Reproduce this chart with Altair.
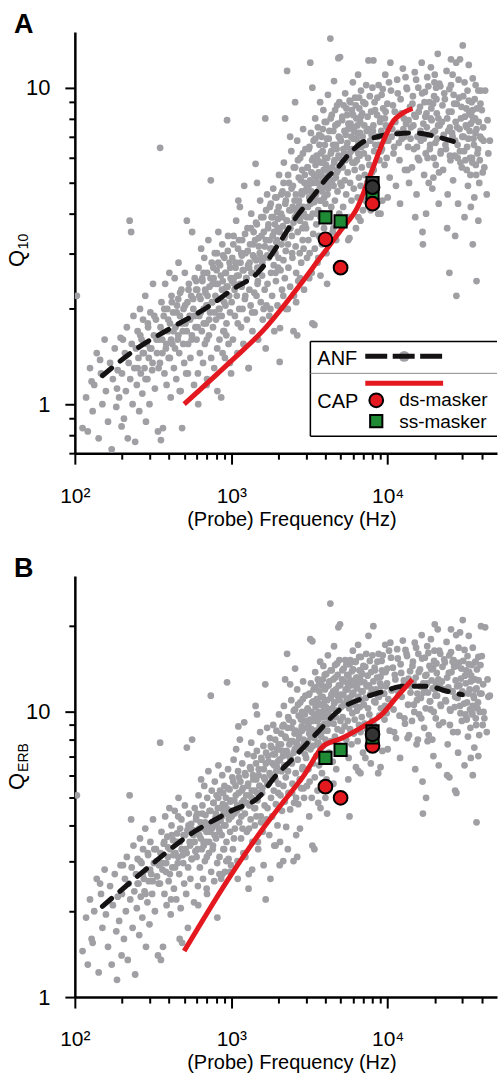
import altair as alt
import pandas as pd

# ---------------- ANF single fibres: (probe frequency Hz, Q10, QERB) ----------------
anf_100_200 = [(103,2.2,5.1),(112,0.84,1.45),(118,1.05,1.9),(121,0.82,1.3),(125,1.3,2.2),(130,0.95,1.55),(133,1.15,2.0),(138,1.45,2.6),(142,0.78,1.22),(147,1.25,2.3),(150,1.0,1.75),(155,1.6,2.8),(158,1.1,1.95),(163,0.88,1.5),(168,1.35,2.45),(172,0.72,1.3),(175,1.2,2.1),(180,1.5,2.7),(184,0.98,1.7),(188,1.28,2.25),(192,1.05,1.85),(196,1.62,2.9),(199,0.85,1.4),(145,1.38,2.5),(128,1.18,1.6),(186,1.12,1.15)]
anf_200_350 = [(200,1.25,2.3),(203,1.6,2.9),(206,0.9,1.6),(209,1.45,2.6),(212,1.1,2.0),(215,1.75,3.1),(218,0.78,1.35),(221,1.35,2.5),(224,3.8,5.1),(226,1.2,2.2),(229,3.5,4.2),(231,1.55,2.85),(234,1.0,1.75),(237,1.9,3.4),(240,1.3,2.35),(243,0.76,1.2),(246,1.5,2.7),(249,1.15,2.05),(252,1.7,3.05),(255,1.4,2.5),(258,0.95,1.65),(261,2.0,3.6),(264,1.25,2.25),(267,1.6,2.95),(270,1.08,1.9),(273,1.85,3.3),(276,1.45,2.6),(279,1.3,2.35),(282,2.2,3.9),(285,0.88,1.5),(288,1.55,2.8),(291,1.2,2.15),(294,1.75,3.15),(297,1.4,2.55),(300,1.0,1.8),(304,1.95,3.5),(308,1.5,2.7),(312,1.28,2.3),(316,2.4,4.2),(320,1.65,2.95),(325,1.12,2.0),(330,1.85,3.3),(335,1.45,2.65),(340,0.82,1.4),(345,1.6,2.9)]
anf_350_600 = [(350,1.35,2.5),(351,6.46,7.8),(355,0.77,1.35),(358,2.1,3.8),(362,1.6,2.95),(366,0.84,1.5),(370,1.9,3.45),(374,1.25,2.3),(378,2.4,4.3),(382,1.5,2.75),(386,1.15,2.1),(390,2.0,3.65),(394,1.7,3.1),(398,1.4,2.55),(402,2.6,4.6),(406,1.8,3.3),(410,1.05,1.95),(415,2.2,4.0),(420,1.55,2.85),(425,1.95,3.55),(430,1.3,2.4),(435,2.5,4.5),(440,1.75,3.2),(445,1.2,2.2),(450,2.05,3.75),(455,1.6,2.95),(460,2.8,5.0),(465,1.45,2.7),(470,1.9,3.5),(475,1.1,2.05),(480,2.3,4.2),(485,0.84,1.55),(490,1.7,3.15),(495,2.0,3.7),(500,1.35,2.5),(505,2.6,4.7),(510,1.8,3.3),(515,1.25,2.3),(520,3.8,7.5),(525,2.1,3.85),(530,1.55,2.85),(536,2.4,4.4),(542,1.9,3.5),(548,1.4,2.6),(554,2.2,4.05),(560,1.65,3.05),(562,3.5,8.0),(572,2.0,3.7),(578,1.15,2.15),(584,2.5,4.6),(590,1.75,3.25),(596,2.3,4.2),(412,1.6,2.2),(468,1.1,1.6),(528,1.25,1.75),(458,2.15,4.3)]
anf_600_1000 = [(600,1.6,3.1),(606,2.3,4.4),(612,1.25,2.45),(618,2.7,5.1),(624,1.9,3.7),(630,1.45,2.85),(636,2.15,4.1),(642,3.1,5.8),(648,1.7,3.3),(654,2.45,4.7),(660,1.35,2.6),(666,2.0,3.9),(672,2.9,5.5),(678,1.55,3.0),(684,2.25,4.35),(690,1.8,3.5),(696,1.15,2.4),(702,2.6,5.0),(708,2.05,3.95),(714,3.3,6.2),(720,1.65,3.2),(726,2.35,4.5),(732,1.95,3.8),(740,5.1,11.4),(744,1.4,2.75),(750,2.8,5.3),(757,2.1,4.05),(764,1.75,3.4),(771,2.5,4.8),(778,1.3,2.55),(785,3.0,5.7),(792,2.2,4.25),(799,1.85,3.6),(806,2.65,5.1),(813,1.5,2.95),(820,2.4,4.6),(827,3.5,6.5),(834,2.0,3.9),(841,1.6,3.1),(848,2.75,5.3),(855,2.15,4.15),(862,1.05,2.6),(869,1.9,3.7),(876,3.2,6.0),(883,2.45,4.75),(890,1.7,3.3),(897,2.3,4.45),(904,2.9,5.5),(911,1.4,2.75),(918,2.05,4.0),(925,2.6,5.0),(932,1.8,3.5),(940,7.9,12.7),(947,2.35,4.55),(954,3.4,6.3),(961,1.55,3.05),(968,2.2,4.25),(975,2.8,5.35),(982,1.95,3.8),(990,2.5,4.85),(997,1.25,2.9),(615,1.0,2.1),(700,1.2,2.3),(760,2.4,3.3),(840,1.9,2.7),(880,1.45,2.7),(930,1.65,3.0),(665,2.6,3.5),(810,3.0,4.1),(980,1.35,2.75),(815,1.1,1.9)]
anf_1000_1700 = [(1005,2.1,4.3),(1015,2.9,5.9),(1025,1.6,3.3),(1035,3.4,6.8),(1045,2.4,4.9),(1055,1.9,3.9),(1065,2.7,5.5),(1075,3.8,7.4),(1085,2.2,4.5),(1095,1.45,3.0),(1105,3.1,6.2),(1110,4.4,8.9),(1115,2.55,5.2),(1125,2.0,4.1),(1135,4.2,8.0),(1145,2.8,5.7),(1155,1.75,3.6),(1165,2.35,4.8),(1175,3.3,6.6),(1185,2.65,5.4),(1195,1.55,3.2),(1210,4.9,9.2),(1222,2.15,4.4),(1234,3.0,6.0),(1246,2.5,5.1),(1258,1.85,3.8),(1270,3.6,7.1),(1282,2.75,5.6),(1294,1.3,2.7),(1306,2.3,4.7),(1318,3.2,6.4),(1330,2.05,4.2),(1342,4.0,7.8),(1354,2.6,5.3),(1366,1.7,3.5),(1378,2.95,6.0),(1390,3.5,7.0),(1402,2.25,4.6),(1414,1.95,4.0),(1430,5.75,10.5),(1444,2.85,5.8),(1458,3.7,7.3),(1460,5.0,9.8),(1472,2.4,4.9),(1486,1.6,3.3),(1500,3.15,6.3),(1515,2.7,5.5),(1530,4.4,8.5),(1545,2.1,4.3),(1560,3.4,6.8),(1575,2.55,5.2),(1590,1.85,3.8),(1605,3.9,7.6),(1620,2.9,5.9),(1635,2.3,4.7),(1650,8.0,12.5),(1665,3.3,6.6),(1680,2.05,4.2),(1695,4.6,8.8),(1040,2.5,3.6),(1100,1.8,2.6),(1160,3.0,4.3),(1230,2.2,3.1),(1300,2.7,3.9),(1360,1.95,2.8),(1420,3.3,4.6),(1480,2.45,3.5),(1550,2.9,4.1),(1610,2.0,2.9),(1290,1.3,2.4),(1660,1.5,2.2)]
anf_1700_3000 = [(1705,2.4,4.6),(1720,3.6,7.0),(1735,2.9,5.6),(1750,1.9,3.7),(1765,4.2,8.1),(1780,3.1,6.0),(1795,2.6,5.0),(1810,3.9,7.5),(1825,2.2,4.3),(1840,3.4,6.6),(1855,4.8,9.0),(1870,2.75,5.3),(1885,1.7,3.4),(1900,3.7,7.1),(1915,3.0,5.8),(1930,2.45,4.75),(1945,4.5,8.6),(1960,3.3,6.4),(1975,2.05,4.0),(1990,3.85,7.4),(2005,2.9,5.6),(2020,5.3,9.8),(2035,3.5,6.8),(2050,1.74,3.5),(2065,2.65,5.1),(2080,4.0,7.7),(2095,3.2,6.2),(2110,2.3,4.5),(2125,4.7,8.9),(2140,3.65,7.0),(2155,2.85,5.5),(2170,5.8,10.5),(2185,3.35,6.5),(2200,2.5,4.85),(2215,4.3,8.2),(2230,3.05,5.9),(2245,2.0,3.95),(2260,3.8,7.3),(2275,11.3,16.0),(2290,4.6,8.8),(2305,3.2,6.2),(2320,2.7,5.2),(2340,5.0,9.4),(2360,3.6,6.95),(2380,2.35,4.55),(2400,4.1,7.9),(2420,6.3,11.0),(2440,3.4,6.6),(2460,2.9,5.6),(2480,4.9,9.2),(2500,3.75,7.2),(2520,2.2,4.8),(2540,4.4,8.4),(2560,5.6,10.2),(2580,3.15,6.1),(2600,2.6,5.0),(2620,4.0,7.7),(2640,6.8,12.0),(2660,3.5,6.8),(2680,2.45,4.75),(2700,5.2,9.7),(2720,4.25,8.1),(2740,3.0,5.8),(2760,6.0,10.8),(2780,3.9,7.5),(2800,2.8,5.4),(2820,4.7,8.9),(2840,5.5,10.0),(2860,3.3,6.4),(2880,7.4,12.8),(2900,4.2,8.0),(2920,2.3,5.0),(2940,5.0,9.3),(2960,3.7,7.1),(2980,6.4,11.4),(1780,2.0,2.6),(1920,2.6,3.4),(2040,1.36,2.9),(2150,2.2,3.0),(2300,2.0,3.3),(2450,3.0,5.2),(2600,2.1,3.7),(2750,2.5,3.9),(2900,3.1,5.4),(2210,8.0,13.0),(2560,9.0,14.2),(2380,7.0,12.5),(2850,3.6,6.3),(2640,1.65,3.1),(2500,1.7,3.0)]
anf_3000_5000 = [(3010,3.6,6.9),(3030,4.8,8.8),(3050,2.9,5.5),(3070,5.6,10.2),(3090,4.2,7.9),(3110,3.3,6.3),(3130,6.4,11.5),(3150,4.5,8.4),(3170,3.0,5.7),(3190,5.1,9.4),(3210,3.9,7.4),(3230,7.2,12.6),(3250,4.7,8.7),(3270,2.6,5.0),(3290,5.9,10.8),(3300,10.0,17.7),(3320,4.0,7.6),(3340,3.45,6.6),(3360,6.8,12.0),(3380,5.3,9.8),(3400,4.35,8.1),(3420,3.1,5.9),(3440,8.0,13.8),(3460,5.7,10.4),(3480,4.6,8.6),(3500,3.7,7.0),(3520,6.1,11.1),(3540,5.0,9.3),(3560,2.8,5.3),(3580,7.5,13.0),(3600,4.1,7.8),(3620,5.4,10.0),(3640,3.4,6.5),(3660,6.6,11.8),(3680,4.8,8.9),(3700,9.0,15.0),(3720,3.9,7.4),(3740,5.8,10.6),(3760,4.4,8.2),(3780,7.0,12.4),(3800,3.2,6.1),(3820,5.2,9.6),(3840,6.3,11.3),(3860,4.0,7.6),(3880,8.5,14.5),(3900,5.5,10.1),(3920,3.6,6.9),(3940,4.9,9.1),(3960,7.8,13.5),(3980,6.0,11.0),(4000,4.3,8.0),(4030,5.7,10.4),(4060,3.0,5.8),(4090,6.9,12.3),(4120,4.6,8.6),(4150,9.5,15.8),(4180,5.3,9.8),(4210,3.8,7.2),(4240,7.3,12.8),(4270,5.0,9.3),(4300,14.3,24.0),(4330,6.2,11.2),(4360,4.2,7.9),(4390,8.2,14.0),(4420,5.6,10.3),(4450,3.5,6.7),(4480,6.6,11.8),(4510,4.9,9.1),(4540,10.5,17.0),(4570,5.9,10.8),(4600,4.4,8.2),(4630,7.6,13.2),(4660,5.2,9.6),(4690,3.3,6.3),(4720,6.4,11.5),(4750,8.8,14.8),(4780,4.7,8.7),(4810,5.5,10.1),(4840,12.4,19.8),(4870,7.0,12.4),(4900,4.0,7.6),(4930,6.0,11.0),(4960,12.5,20.3),(4990,5.0,9.3),(3200,12.0,18.0),(3150,2.5,4.3),(3600,2.9,4.8),(4000,3.3,5.0),(4500,3.6,5.6),(3300,1.8,3.4),(3400,1.78,3.3),(3720,2.55,4.6),(4100,2.4,4.4)]
anf_5000_8000 = [(5030,6.8,11.5),(5070,4.9,8.6),(5110,7.9,13.0),(5150,5.6,9.6),(5190,4.2,7.4),(5230,8.8,14.2),(5270,6.2,10.6),(5310,5.1,8.9),(5350,9.6,15.2),(5390,7.1,12.0),(5430,4.6,8.0),(5470,6.5,11.1),(5510,8.2,13.5),(5550,5.4,9.3),(5590,7.4,12.5),(5630,3.9,6.9),(5670,6.0,10.3),(5710,9.1,14.7),(5750,5.0,8.7),(5790,7.7,12.9),(5830,6.3,10.8),(5870,4.4,7.7),(5910,8.5,13.9),(5950,5.8,9.9),(5990,10.4,16.4),(6030,6.9,11.7),(6070,4.8,8.4),(6110,7.5,12.6),(6150,5.5,9.4),(6190,9.3,15.0),(6230,6.4,10.9),(6270,3.6,6.4),(6310,8.0,13.2),(6350,5.9,10.1),(6390,7.2,12.1),(6430,4.5,7.9),(6470,11.0,17.2),(6510,6.7,11.3),(6550,5.2,9.0),(6590,8.6,14.0),(6630,6.1,10.4),(6670,7.8,13.0),(6710,4.9,8.5),(6750,9.8,15.6),(6790,6.5,11.0),(6830,5.6,9.6),(6870,8.3,13.6),(6910,7.0,11.8),(6950,4.1,7.2),(6990,9.0,14.5),(7040,6.2,10.6),(7090,7.6,12.7),(7140,5.3,9.1),(7190,8.9,14.4),(7240,6.6,11.2),(7290,10.2,16.0),(7340,7.3,12.3),(7390,5.0,8.7),(7440,8.1,13.4),(7490,6.0,10.3),(7540,12.2,18.5),(7590,7.4,12.4),(7640,5.7,9.8),(7690,9.4,15.1),(7740,6.8,11.5),(7790,4.6,8.0),(7840,8.4,13.8),(7890,7.1,12.0),(7940,5.4,9.3),(7990,10.0,15.8),(5600,3.3,5.8),(6500,3.9,6.2),(7200,4.4,6.9),(5700,3.35,4.3),(6700,3.8,6.1),(7800,4.1,6.6)]
anf_8000_14000 = [(8050,7.3,11.8),(8150,5.5,9.0),(8250,9.0,14.3),(8350,6.6,10.8),(8450,4.8,7.9),(8550,8.2,13.2),(8650,7.0,11.4),(8750,10.2,16.0),(8850,5.9,9.7),(8950,7.8,12.6),(9050,6.3,10.3),(9150,9.5,15.1),(9250,4.4,7.3),(9350,8.6,13.8),(9450,7.1,11.6),(9550,5.7,9.4),(9650,11.0,17.2),(9750,7.6,12.3),(9850,6.0,9.9),(9950,8.9,14.2),(10100,6.8,11.1),(10300,5.2,8.6),(10500,9.8,15.5),(10700,7.4,12.0),(10900,6.2,10.2),(11100,8.4,13.5),(11300,4.9,8.1),(11500,10.6,16.6),(11700,7.2,11.8),(11900,5.9,9.7),(12100,9.2,14.7),(12300,6.9,11.3),(12500,11.5,17.8),(12700,8.0,12.9),(12900,5.5,9.1),(13100,7.7,12.5),(13300,9.9,15.7),(13500,6.5,10.6),(13700,5.0,8.3),(13900,8.7,13.9),(8100,12.2,20.0),(9000,4.0,6.4),(10000,4.5,7.4),(11000,6.5,8.5),(12000,4.3,6.9),(13000,10.8,16.5),(8700,4.0,6.1),(9600,8.0,10.5),(10400,12.0,17.5),(12800,7.0,9.5),(13400,5.5,8.1),(9200,6.4,14.0)]
anf_14000_22000 = [(14100,7.5,12.3),(14300,5.6,9.3),(14500,9.4,15.0),(14700,6.4,10.6),(14900,11.2,17.5),(15100,8.1,13.2),(15300,4.6,7.7),(15500,7.0,11.6),(15700,10.0,16.0),(15900,5.9,9.8),(16100,8.7,14.1),(16300,6.8,11.2),(16500,12.0,18.6),(16700,3.5,5.7),(16800,3.2,4.4),(16900,7.7,12.6),(17100,5.3,8.8),(17300,9.7,15.5),(17500,6.2,10.3),(17700,8.3,13.5),(17900,10.8,17.0),(18100,7.1,11.7),(18300,5.0,8.3),(18500,9.0,14.5),(18700,6.6,10.9),(18900,11.6,18.0),(19100,7.9,12.9),(19300,4.8,8.0),(19500,8.9,14.3),(19700,6.0,10.0),(19900,10.4,16.4),(20100,7.3,12.0),(20300,5.7,9.5),(20500,9.2,14.8),(20700,6.9,11.4),(20900,12.8,19.5),(21100,8.0,13.0),(21300,5.4,9.0),(21500,7.6,12.4),(21700,10.1,16.0),(21900,6.3,10.5),(14800,8.2,10.0),(15600,6.0,8.0),(16400,7.0,9.5),(17200,9.0,12.0),(18000,6.0,7.9),(18800,8.0,10.2),(19600,5.2,7.0),(20400,10.0,12.5),(21200,4.3,6.5),(15000,3.9,6.3),(17600,4.0,5.0),(20000,11.0,20.3)]
anf_22000_45000 = [(22200,7.8,12.8),(22600,5.5,9.2),(23000,9.6,15.3),(23400,6.6,11.0),(23800,11.3,17.6),(24200,4.6,7.7),(24600,8.4,13.7),(25000,6.1,10.2),(25400,10.2,16.2),(25800,7.2,11.8),(26200,5.1,8.5),(26600,8.9,14.4),(27000,6.8,11.3),(27400,12.0,18.6),(27800,7.5,12.3),(28200,4.3,7.2),(28600,9.3,14.9),(29000,6.3,10.5),(29400,8.0,13.1),(29800,5.6,9.3),(30200,13.6,21.0),(30600,7.0,11.6),(31000,10.4,16.5),(31400,5.9,9.8),(31800,8.6,14.0),(32200,6.5,10.8),(32600,4.9,8.2),(33000,9.1,14.7),(33400,7.3,12.0),(33800,5.3,8.8),(34200,8.2,13.4),(34600,6.0,10.0),(35000,10.7,16.8),(35400,6.9,11.4),(35800,4.5,7.5),(36200,8.0,13.0),(36600,5.7,9.5),(37000,7.4,12.1),(37500,6.2,10.3),(38000,9.8,15.6),(38500,5.0,8.3),(39000,7.0,11.6),(39500,9.8,20.0),(40000,8.5,15.7),(40500,5.4,9.0),(41000,6.8,10.0),(42000,9.8,19.8),(43000,4.6,8.5),(24000,3.6,6.0),(27000,3.4,5.3),(31000,3.9,6.5),(34000,4.2,6.9),(26000,11.0,15.0),(29000,12.3,19.0),(33000,11.8,18.5),(36500,10.2,15.0),(38000,3.8,7.0),(25000,7.5,9.0),(28000,6.0,8.5),(32000,7.5,9.5),(35000,8.5,10.5),(44000,6.2,11.3),(24800,2.6,5.9),(27500,2.2,5.2),(37000,2.45,4.1),(35000,3.2,6.0),(25400,12.3,19.5)]
# dense core of the fibre cloud
core_250_700 = [(252,1.3,2.5),(262,1.65,3.0),(272,1.45,2.7),(283,1.2,2.3),(293,1.8,3.2),(303,1.5,2.8),(314,1.35,2.55),(322,1.9,3.3),(333,1.6,3.0),(343,1.3,2.5),(353,1.75,3.2),(363,1.45,2.8),(373,2.0,3.5),(384,1.55,2.95),(395,1.85,3.35),(405,1.4,2.7),(417,2.1,3.7),(427,1.7,3.15),(437,1.5,2.85),(448,1.95,3.5),(459,1.65,3.1),(471,2.25,3.9),(482,1.8,3.3),(493,1.55,2.95),(507,2.05,3.7),(519,1.7,3.2),(533,2.3,4.0),(546,1.85,3.4),(558,1.6,3.05),(571,2.15,3.85),(583,1.9,3.5),(597,2.45,4.3),(610,1.75,3.3),(624,2.2,3.9),(638,1.95,3.6),(652,2.5,4.4),(667,1.8,3.4),(681,2.3,4.1),(694,2.05,3.8),(698,1.6,3.1)]
core_700_2000 = [(705,2.2,4.0),(722,1.85,3.5),(737,2.5,4.5),(753,2.1,3.9),(768,2.7,4.8),(782,1.95,3.7),(797,2.4,4.4),(811,2.15,4.0),(826,2.8,5.0),(842,2.0,3.8),(858,2.55,4.6),(872,2.3,4.3),(887,2.95,5.2),(901,2.1,4.0),(916,2.6,4.7),(935,2.35,4.4),(951,3.05,5.4),(966,2.2,4.2),(985,2.7,4.9),(1010,2.45,4.5),(1030,3.2,5.7),(1050,2.3,4.4),(1070,2.8,5.1),(1090,2.55,4.7),(1120,3.3,5.9),(1140,2.4,4.6),(1170,2.95,5.3),(1200,2.65,4.9),(1225,3.45,6.1),(1250,2.5,4.8),(1275,3.05,5.5),(1310,2.8,5.1),(1335,3.6,6.3),(1350,2.6,5.0),(1385,3.2,5.8),(1410,2.9,5.3),(1440,3.75,6.6),(1465,2.7,5.2),(1495,3.35,6.0),(1520,3.0,5.5),(1555,3.9,6.9),(1580,2.8,5.4),(1615,3.5,6.3),(1640,3.15,5.8),(1670,4.1,7.2),(1700,2.95,5.6),(1730,3.7,6.7),(1760,3.3,6.1),(1790,4.3,7.6),(1820,3.1,5.9),(1850,3.9,7.1),(1880,3.5,6.5),(1910,4.5,8.0),(1940,3.25,6.2),(1965,4.05,7.4),(1985,3.6,6.7),(1995,2.7,5.2),(1450,2.2,4.3),(1180,2.0,3.9),(900,1.7,3.3)]
core_2000_7000 = [(2010,4.2,7.7),(2045,3.6,6.8),(2085,4.6,8.4),(2120,3.9,7.3),(2160,5.0,9.0),(2195,3.4,6.5),(2235,4.4,8.1),(2270,3.8,7.1),(2310,5.3,9.6),(2350,4.1,7.7),(2390,3.6,6.9),(2430,4.8,8.8),(2470,4.2,7.9),(2510,5.6,10.1),(2550,3.9,7.4),(2590,4.6,8.6),(2630,4.1,7.8),(2670,5.9,10.6),(2710,4.4,8.3),(2750,3.8,7.3),(2790,5.1,9.4),(2830,4.6,8.6),(2870,6.2,11.1),(2910,4.0,7.7),(2950,5.3,9.8),(2990,4.7,8.8),(3040,3.9,7.5),(3080,5.6,10.3),(3120,4.9,9.1),(3160,6.5,11.6),(3220,4.3,8.2),(3260,5.4,10.0),(3310,5.0,9.3),(3350,6.0,10.9),(3410,4.5,8.5),(3450,6.9,12.2),(3490,5.2,9.6),(3530,4.0,7.7),(3570,5.9,10.8),(3610,5.0,9.4),(3650,7.1,12.6),(3690,4.4,8.4),(3730,6.2,11.3),(3770,5.3,9.9),(3810,4.7,8.9),(3850,7.4,13.0),(3890,5.8,10.7),(3930,4.5,8.6),(3970,6.6,12.0),(4010,5.1,9.6),(4050,7.8,13.6),(4110,6.0,11.0),(4160,4.8,9.1),(4200,6.9,12.4),(4260,5.5,10.2),(4320,8.0,14.0),(4370,6.3,11.5),(4430,5.1,9.6),(4490,7.3,13.0),(4550,5.8,10.7),(4610,8.5,14.6),(4670,6.6,12.0),(4730,5.4,10.1),(4790,7.7,13.5),(4850,6.1,11.2),(4910,9.0,15.2),(4970,6.9,12.4),(5050,5.7,10.4),(5130,8.1,14.0),(5210,6.4,11.5),(5290,7.3,12.8),(5370,5.9,10.7),(5450,8.6,14.7),(5530,6.7,12.0),(5610,7.7,13.4),(5690,6.2,11.2),(5770,9.0,15.2),(5850,7.0,12.4),(5930,6.4,11.5),(6010,8.2,14.1),(6090,7.3,12.8),(6170,5.8,10.6),(6250,8.8,15.0),(6330,6.9,12.2),(6410,7.6,13.2),(6490,6.2,11.2),(6570,9.3,15.6),(6650,7.2,12.7),(6730,8.1,13.9),(6810,6.6,11.8)]
core_8000_45000 = [(8100,7.6,12.8),(8200,6.3,10.9),(8300,8.5,14.0),(8400,7.0,12.0),(8600,9.3,15.0),(8800,6.6,11.3),(9000,8.0,13.3),(9100,7.3,12.3),(9300,9.9,15.8),(9500,6.8,11.6),(9700,8.4,13.8),(9900,7.5,12.6),(10200,10.4,16.4),(10600,7.0,11.9),(10800,8.8,14.3),(11200,7.8,13.0),(11600,9.6,15.4),(11800,6.7,11.4),(12200,8.3,13.7),(12600,7.4,12.4),(13200,10.0,16.0),(13600,7.9,13.1),(14000,6.9,11.7),(14400,8.9,14.5),(14600,7.6,12.7),(15200,10.6,16.8),(15400,6.5,11.0),(15800,8.4,13.8),(16200,7.3,12.3),(16600,9.6,15.4),(17000,6.9,11.7),(17400,8.1,13.4),(17800,7.5,12.6),(18200,10.1,16.1),(18600,6.4,10.9),(19000,8.6,14.1),(19400,7.2,12.1),(19800,9.4,15.1),(20200,6.7,11.4),(20600,8.3,13.7),(21000,7.6,12.7),(21400,10.3,16.4),(21800,6.2,10.6),(22400,8.8,14.4),(22800,7.1,12.0),(23200,9.2,14.9),(23600,6.4,10.9),(24000,8.0,13.2),(24400,7.3,12.2),(24800,9.9,15.8),(25200,5.9,10.1),(25600,8.4,13.8),(26000,7.0,11.8),(26400,9.5,15.2),(26800,6.1,10.4),(27200,7.8,12.9),(27600,8.9,14.5),(28000,6.6,11.2),(28400,10.6,16.8),(28800,7.4,12.4),(29200,5.8,9.9),(29600,8.7,14.2),(30000,7.0,11.8),(30400,9.4,15.1),(30800,6.3,10.7),(31200,8.1,13.4),(31600,7.6,12.6),(32000,5.5,9.4),(32400,9.8,15.7),(32800,6.9,11.6),(33200,8.4,13.8),(33600,6.0,10.2),(34000,7.7,12.8),(34400,9.0,14.6),(34800,5.8,9.8),(35200,7.9,13.0),(35600,6.6,11.2),(36000,9.2,14.9),(36400,7.2,12.0),(36800,5.3,9.0),(37200,8.6,14.1),(37800,6.4,10.8),(38200,7.8,12.9),(38800,5.9,10.0),(39200,8.9,14.6),(39800,6.9,11.6),(40800,7.5,12.5),(41500,5.6,9.5),(43500,7.9,13.0),(45000,6.8,11.4)]

# ---------------- ANF trend (dashed) and CAP (red) curves ----------------
anf_a_f = [150, 250, 420, 700, 1000, 1530, 2000, 2650, 3400, 4100, 4800, 5700, 6700, 8600, 11600, 14700, 21800, 29000]
anf_a_q = [1.23, 1.5, 1.75, 2.02, 2.29, 2.65, 3.2, 3.95, 4.6, 5.2, 5.6, 6.2, 6.66, 7.0, 7.16, 7.2, 6.95, 6.66]
cap_a_f = [500, 985, 1600, 2500, 3720, 5000, 6400, 7800, 9400, 10900, 12400, 14400]
cap_a_q = [1.0, 1.36, 1.71, 2.24, 2.91, 3.54, 4.18, 5.35, 6.8, 7.86, 8.3, 8.6]
anf_b_f = [150, 290, 530, 1010, 1530, 1860, 2500, 3540, 5000, 6700, 9400, 12600, 18000, 24300, 30000]
anf_b_q = [2.08, 2.83, 3.68, 4.51, 5.08, 5.84, 6.9, 8.45, 10.25, 11.1, 11.8, 12.3, 12.3, 11.8, 11.5]
cap_b_f = [500, 1000, 1530, 2060, 2900, 3890, 5000, 7000, 9000, 11600, 14400]
cap_b_q = [1.45, 2.69, 3.78, 4.69, 5.97, 7.6, 8.05, 8.9, 9.7, 11.4, 13.0]

# ---------------- CAP markers ----------------
ss_f = [4000, 5000]
ss_q10 = [3.89, 3.78]
ss_qerb = [6.9, 7.36]
ds_f = [4000, 5000]
ds_q10 = [3.32, 2.70]
ds_qerb = [5.47, 5.0]
ds8_q10 = [4.3]
ds8_qerb = [7.6]
stack_f = [8000, 8000, 8000]
stack_q10 = [5.0, 4.85, 4.65]
stack_qerb = [8.55, 8.35, 8.15]

x_ticks = [100, 200, 300, 400, 500, 600, 700, 800, 900, 1000, 2000, 3000, 4000, 5000,
           6000, 7000, 8000, 9000, 10000, 20000, 30000, 40000]
ya_ticks = [0.7, 0.8, 0.9, 1, 2, 3, 4, 5, 6, 7, 8, 9, 10]
yb_ticks = [1, 2, 3, 4, 5, 6, 7, 8, 9, 10, 20]

GRAY = "#a0a0a4"
DARK = "#141213"
RED = "#e3191f"
GREEN = "#1f8b34"
FONT = "Liberation Sans"
W, H = 423, 422

rows = (anf_100_200 + anf_200_350 + anf_350_600 + anf_600_1000 + anf_1000_1700 +
        anf_1700_3000 + anf_3000_5000 + anf_5000_8000 + anf_8000_14000 +
        anf_14000_22000 + anf_22000_45000 + core_250_700 + core_700_2000 +
        core_2000_7000 + core_8000_45000)
fibres = pd.DataFrame(rows, columns=["f", "q10", "qerb"])
one = pd.DataFrame({"k": [0]})

x_axis = alt.Axis(
    values=x_ticks, grid=False, title="(Probe) Frequency (Hz)",
    labelExpr="datum.value == 100 ? '10²' : datum.value == 1000 ? '10³' : datum.value == 10000 ? '10⁴' : ''",
    labelFont=FONT, labelFontSize=21, labelColor="black", labelPadding=21, labelFlush=False,
    labelOverlap=False,
    titleFont=FONT, titleFontSize=20, titleFontWeight="normal", titleColor="black",
    titlePadding=3, titleX=217,
    tickSize={"condition": {"test": "datum.value == 100 || datum.value == 1000 || datum.value == 10000", "value": 11}, "value": 6},
    tickWidth=2, tickColor="black", domainColor="black", domainWidth=2.5,
)


def y_axis(vals):
    return alt.Axis(
        values=vals, grid=False, title=None,
        labelExpr="datum.value == 1 ? '1' : datum.value == 10 ? '10' : ''",
        labelFont=FONT, labelFontSize=22, labelColor="black", labelPadding=15,
        labelOverlap=False, labelFlush=False,
        tickSize={"condition": {"test": "datum.value == 1 || datum.value == 10", "value": 10}, "value": 6},
        tickWidth=2, tickColor="black", domainColor="black", domainWidth=2.5,
    )


def txt(s, x, y, size=20, align="left", baseline="alphabetic", angle=0, weight="normal"):
    return alt.Chart(one).mark_text(
        text=s, font=FONT, fontSize=size, align=align, baseline=baseline,
        angle=angle, fontWeight=weight, color="black"
    ).encode(x=alt.value(x), y=alt.value(y))


def panel(qcol, ydom, yvals, af, aq, cf, cq, ssq, dsq, ds8q, stq, letter, sub, sub_y, legend, red_under):
    xs = alt.X("f:Q", scale=alt.Scale(type="log", domain=[100, 50000], nice=False), axis=x_axis)
    ys = alt.Y("q:Q", scale=alt.Scale(type="log", domain=ydom, nice=False, zero=False), axis=y_axis(yvals))
    sc = fibres[["f", qcol]].rename(columns={qcol: "q"})
    layers = [
        alt.Chart(sc).mark_circle(size=46, color=GRAY, opacity=1, clip=True).encode(x=xs, y=ys),
        alt.Chart(pd.DataFrame({"f": af, "q": aq})).mark_line(
            color=DARK, strokeWidth=5, strokeDash=[12, 11], strokeCap="round", interpolate="monotone"
        ).encode(x="f:Q", y="q:Q"),
        alt.Chart(pd.DataFrame({"f": cf, "q": cq})).mark_line(
            color=RED, strokeWidth=5, interpolate="monotone"
        ).encode(x="f:Q", y="q:Q"),
    ]
    sq_style = dict(shape="square", filled=True, fill=GREEN, stroke="black", strokeWidth=2, size=150, opacity=1)
    ci_style = dict(shape="circle", filled=True, fill=RED, stroke="black", strokeWidth=2, size=190, opacity=1)
    stack_sq = dict(shape="square", filled=True, fill="#3a3a3a", stroke="black", strokeWidth=2, size=150, opacity=1)
    stack_ci = dict(shape="circle", filled=True, fill="#333333", stroke="black", strokeWidth=2, size=190, opacity=1)
    ds8 = alt.Chart(pd.DataFrame({"f": [8000], "q": ds8q})).mark_point(**ci_style).encode(x="f:Q", y="q:Q")
    stk = [
        alt.Chart(pd.DataFrame({"f": stack_f[2:], "q": stq[2:]})).mark_point(**sq_style).encode(x="f:Q", y="q:Q"),
        alt.Chart(pd.DataFrame({"f": stack_f[:1], "q": stq[:1]})).mark_point(**stack_sq).encode(x="f:Q", y="q:Q"),
        alt.Chart(pd.DataFrame({"f": stack_f[1:2], "q": stq[1:2]})).mark_point(**stack_ci).encode(x="f:Q", y="q:Q"),
    ]
    if red_under:
        layers += [ds8] + stk
    else:
        layers += stk + [ds8]
    layers += [
        alt.Chart(pd.DataFrame({"f": ss_f, "q": ssq})).mark_point(**sq_style).encode(x="f:Q", y="q:Q"),
        alt.Chart(pd.DataFrame({"f": ds_f, "q": dsq})).mark_point(**ci_style).encode(x="f:Q", y="q:Q"),
    ]
    if legend:
        layers += [
            alt.Chart(one).mark_rect(fill="white", stroke=None).encode(
                x=alt.value(236), x2=alt.value(W), y=alt.value(310), y2=alt.value(405)),
            alt.Chart(one).mark_rule(color="black", strokeWidth=1.5).encode(
                x=alt.value(236), x2=alt.value(W), y=alt.value(310)),
            alt.Chart(one).mark_rule(color="black", strokeWidth=1.5).encode(
                x=alt.value(236), x2=alt.value(W), y=alt.value(405)),
            alt.Chart(one).mark_rule(color="black", strokeWidth=1.5).encode(
                x=alt.value(236), y=alt.value(310), y2=alt.value(405)),
            alt.Chart(one).mark_rule(color="#8a8a8a", strokeWidth=1).encode(
                x=alt.value(236), x2=alt.value(W), y=alt.value(342)),
            txt("ANF", 243, 334),
            alt.Chart(one).mark_point(shape="circle", filled=True, color=GRAY, size=120, opacity=1).encode(
                x=alt.value(330), y=alt.value(325)),
            alt.Chart(one).mark_rule(color=DARK, strokeWidth=5, strokeDash=[22, 5.5]).encode(
                x=alt.value(291), x2=alt.value(368), y=alt.value(325)),
            alt.Chart(one).mark_rule(color=RED, strokeWidth=5).encode(
                x=alt.value(291), x2=alt.value(369), y=alt.value(352)),
            txt("CAP", 243, 377),
            alt.Chart(one).mark_point(**ci_style).encode(x=alt.value(302), y=alt.value(369)),
            txt("ds-masker", 325, 375, size=19),
            alt.Chart(one).mark_point(**sq_style).encode(x=alt.value(302), y=alt.value(390)),
            txt("ss-masker", 325, 397, size=19),
        ]
    layers += [
        txt(letter, -61, 1, size=27, weight="bold"),
        txt("Q", -58, 0, size=22, align="center", baseline="middle", angle=270).encode(y=alt.value(sub_y[0])),
        txt(sub, -51, 0, size=14, align="center", baseline="middle", angle=270).encode(y=alt.value(sub_y[1])),
    ]
    return alt.layer(*layers).properties(width=W, height=H)


pa = panel("q10", [0.7, 15], ya_ticks, anf_a_f, anf_a_q, cap_a_f, cap_a_q,
           ss_q10, ds_q10, ds8_q10, stack_q10, "A", "10", (227, 210), True, False)
pb = panel("qerb", [1, 30], yb_ticks, anf_b_f, anf_b_q, cap_b_f, cap_b_q,
           ss_qerb, ds_qerb, ds8_qerb, stack_qerb, "B", "ERB", (206, 182), False, True)

chart = alt.vconcat(pa, pb, spacing=26).properties(
    padding={"left": 6, "top": 10, "right": 0, "bottom": 0}
).configure_view(stroke=None)

chart.save("out.html", embed_options={"renderer": "svg", "actions": False})
